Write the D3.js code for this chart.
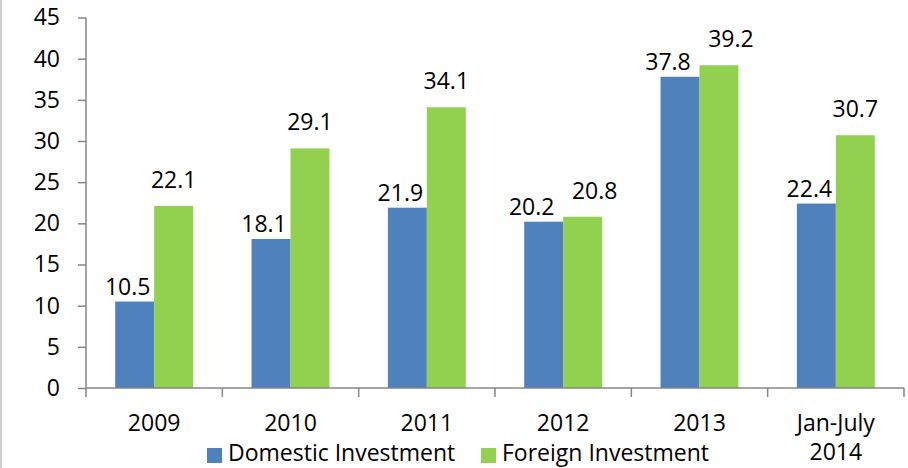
<!DOCTYPE html>
<html><head><meta charset="utf-8">
<script src="https://cdn.jsdelivr.net/npm/d3@7"></script>
<style>
html,body{margin:0;padding:0;background:#fff;}
svg{display:block;font-family:"Open Sans",sans-serif;}
</style></head>
<body><svg id="c" width="908" height="468"></svg>
<script>
const categories = ["2009","2010","2011","2012","2013","Jan-July\n2014"];
const domestic = [10.5,18.1,21.9,20.2,37.8,22.4];
const foreign = [22.1,29.1,34.1,20.8,39.2,30.7];
const seriesNames = ["Domestic Investment","Foreign Investment"];
const colors = ["#4F81BD","#92D050"];
const yTicks = [0,5,10,15,20,25,30,35,40,45];

(function(){
const svg = d3.select("#c");
const mLeft = 86, mRight = 904, mTop = 17.5, mBottom = 388;
const x = d3.scaleBand().domain(categories).range([mLeft,mRight]).paddingInner(0).paddingOuter(0);
const y = d3.scaleLinear().domain([0,45]).range([mBottom,mTop]);
const gap = 1.5;
const barW = x.bandwidth()/(2+gap);
const fs = 23;

svg.append("line").attr("x1",1).attr("x2",1).attr("y1",0).attr("y2",468)
  .attr("stroke","#d0d0d0").attr("stroke-width",2);

const series = [domestic, foreign];
series.forEach((vals,si)=>{
  svg.append("g").selectAll("rect").data(vals).join("rect")
    .attr("x",(d,i)=>x(categories[i]) + barW*gap/2 + si*barW)
    .attr("y",d=>y(d))
    .attr("width",barW)
    .attr("height",d=>y(0)-y(d))
    .attr("fill",colors[si]);
});

categories.forEach((c,i)=>{
  const bx = x(c) + barW*gap/2;
  let bDx = -7, gDx = 0;
  const bY = y(domestic[i]) - 7, gY = y(foreign[i]) - 18;
  if (Math.abs(bY - gY) < 24) { bDx -= 5; gDx += 12; }
  svg.append("text").attr("x",bx + barW/2 + bDx).attr("y",bY)
    .attr("text-anchor","middle").attr("font-size",fs).attr("fill","#000")
    .text(domestic[i].toFixed(1));
  svg.append("text").attr("x",bx + barW*1.5 + gDx).attr("y",gY)
    .attr("text-anchor","middle").attr("font-size",fs).attr("fill","#000")
    .text(foreign[i].toFixed(1));
});

const yAxis = d3.axisLeft(y).tickValues(yTicks).tickSize(8).tickPadding(18).tickFormat(d3.format("d"));
const gy = svg.append("g").attr("transform",`translate(${mLeft},0)`).call(yAxis);
gy.select(".domain").attr("stroke","#868686").attr("stroke-width",1.5).attr("d",`M0,${mTop}V${mBottom}`);
gy.selectAll(".tick line").attr("stroke","#868686").attr("stroke-width",1.5);
gy.selectAll(".tick text").attr("font-size",fs).attr("font-family","Open Sans").attr("fill","#000");

const gx = svg.append("g").attr("transform",`translate(0,${mBottom})`);
gx.append("line").attr("x1",mLeft).attr("x2",mRight).attr("y1",0).attr("y2",0)
  .attr("stroke","#868686").attr("stroke-width",1.5);
const bounds = categories.map(c=>x(c)).concat([mRight]);
gx.selectAll("line.t").data(bounds).join("line").attr("class","t")
  .attr("x1",d=>d).attr("x2",d=>d).attr("y1",0).attr("y2",9)
  .attr("stroke","#868686").attr("stroke-width",1.5);
categories.forEach(c=>{
  const lines = c.split("\n");
  const t = gx.append("text").attr("x",x(c)+x.bandwidth()/2).attr("y",43)
    .attr("text-anchor","middle").attr("font-size",fs).attr("fill","#000");
  lines.forEach((l,k)=>t.append("tspan").attr("x",x(c)+x.bandwidth()/2).attr("dy",k?29:0).text(l));
});

const legX = [207, 481];
seriesNames.forEach((n,i)=>{
  svg.append("rect").attr("x",legX[i]).attr("y",448).attr("width",15).attr("height",15).attr("fill",colors[i]);
  svg.append("text").attr("x",legX[i]+21).attr("y",461).attr("font-size",fs).attr("fill","#000").text(n);
});
})();
</script></body></html>
